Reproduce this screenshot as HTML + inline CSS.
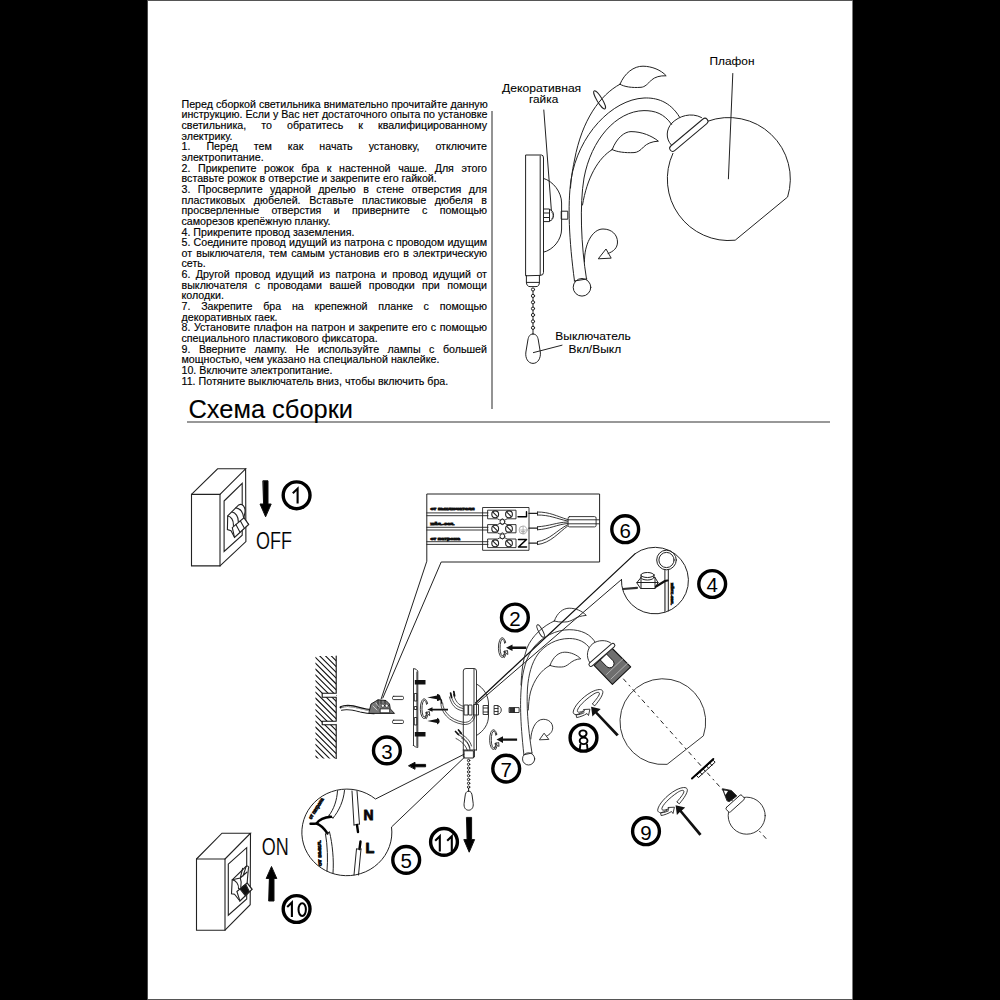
<!DOCTYPE html>
<html><head><meta charset="utf-8">
<style>
html,body{margin:0;padding:0;background:#000;}
body{width:1000px;height:1000px;position:relative;overflow:hidden;font-family:"Liberation Sans",sans-serif;}
#page{position:absolute;left:147.5px;top:1px;width:705px;height:998px;background:#fff;}
#topline{position:absolute;left:147.5px;top:0;width:705px;height:1px;background:#555;}
#botline{position:absolute;left:147.5px;top:999px;width:705px;height:1px;background:#555;}
#txt{position:absolute;left:181.5px;top:98.65px;width:305.5px;font-size:10.68px;line-height:10.65px;color:#000;-webkit-text-stroke:0.15px #000;}
#txt div{white-space:nowrap;}
#txt div.j{text-align:justify;text-align-last:justify;white-space:nowrap;}
#hline{position:absolute;left:187px;top:421px;width:643px;height:2px;background:#989898;}
#vline{position:absolute;left:491px;top:111px;width:2px;height:298px;background:#939393;}
svg{position:absolute;left:0;top:0;}
</style></head><body>
<div id="page"></div><div style="position:absolute;left:147px;top:0;width:1px;height:1000px;background:#4a4a4a"></div><div style="position:absolute;left:852px;top:0;width:1px;height:1000px;background:#7a7a7a"></div><div id="topline"></div><div id="botline"></div>
<div id="txt">
<div class="j">Перед сборкой светильника внимательно прочитайте данную</div>
<div class="j">инструкцию. Если у Вас нет достаточного опыта по установке</div>
<div class="j">светильника, то обратитесь к квалифицированному</div>
<div>электрику.</div>
<div class="j">1. Перед тем как начать установку, отключите</div>
<div>электропитание.</div>
<div class="j">2. Прикрепите рожок бра к настенной чаше. Для этого</div>
<div>вставьте рожок в отверстие и закрепите его гайкой.</div>
<div class="j">3. Просверлите ударной дрелью в стене отверстия для</div>
<div class="j">пластиковых дюбелей. Вставьте пластиковые дюбеля в</div>
<div class="j">просверленные отверстия и приверните с помощью</div>
<div>саморезов крепёжную планку.</div>
<div>4. Прикрепите провод заземления.</div>
<div class="j">5. Соедините провод идущий из патрона с проводом идущим</div>
<div class="j">от выключателя, тем самым установив его в электрическую</div>
<div>сеть.</div>
<div class="j">6. Другой провод идущий из патрона и провод идущий от</div>
<div class="j">выключателя с проводами вашей проводки при помощи</div>
<div>колодки.</div>
<div class="j">7. Закрепите бра на крепежной планке с помощью</div>
<div>декоративных гаек.</div>
<div class="j">8. Установите плафон на патрон и закрепите его с помощью</div>
<div>специального пластикового фиксатора.</div>
<div class="j">9. Вверните лампу. Не используйте лампы с большей</div>
<div>мощностью, чем указано на специальной наклейке.</div>
<div>10. Включите электропитание.</div>
<div>11. Потяните выключатель вниз, чтобы включить бра.</div>
</div>
<div id="hline"></div>
<div id="vline"></div>
<svg width="1000" height="1000" viewBox="0 0 1000 1000" fill="none" stroke="#111" stroke-width="1" stroke-linecap="round" stroke-linejoin="round">
<!-- TOP LAMP -->
<g id="toplamp" stroke="#222" stroke-width="1">
<!-- labels -->
<g fill="#000" stroke="#000" stroke-width="0.08" font-family="Liberation Sans" font-size="10.8">
<text x="709.5" y="65" textLength="45" lengthAdjust="spacingAndGlyphs">Плафон</text>
<text x="502" y="91.5" textLength="79.2" lengthAdjust="spacingAndGlyphs">Декоративная</text>
<text x="529" y="103" textLength="29.2" lengthAdjust="spacingAndGlyphs">гайка</text>
<text x="555.3" y="340" textLength="75.4" lengthAdjust="spacingAndGlyphs">Выключатель</text>
<text x="568.5" y="352.6" textLength="52.7" lengthAdjust="spacingAndGlyphs">Вкл/Выкл</text>
</g>
<path d="M732.8,73.5 L728.4,178.8"/>
<path d="M543.8,110 L551.4,210.8"/>
<!-- wall plate -->
<path d="M525.6,275.4 L525.6,155 L541.5,155 Q543.5,155 543.5,158 L543.5,272.5 Q543.5,275.4 540.5,275.4 Z"/>
<path d="M540.2,156 L540.2,275"/>
<!-- switch housing -->
<path d="M526.4,275.4 L526.4,282.4 L539.4,282.4 L539.4,275.4"/>
<path d="M526.4,282.4 Q526.6,286.6 530,286.6 L536,286.6 Q539.4,286.6 539.4,282.4"/>
<!-- bowl -->
<path d="M543.5,178.4 C553,181 561.6,192 561.6,203 L561.6,229 C561.6,240 553,250 543.5,252.2"/>
<!-- nut -->
<path d="M544.2,209 L549.5,209 L549.5,221.6 L544.2,221.6 M544.2,213 L549.5,213 M544.2,217.5 L549.5,217.5 M549.5,209.5 C555,209.5 555,221 549.5,221"/>
<path d="M551.5,212 C553.5,213.5 553.5,217.5 551.5,219" stroke-width="0.6"/>
<!-- connector -->
<rect x="561.6" y="211.2" width="6.2" height="8"/>
<!-- arm -->
<path d="M679.6,117.2 C670,101 656,97.5 644,98 C612,99.5 578,135 571,180 C567.5,205 569,240 574.5,281"/>
<path d="M671.6,124.4 C664,113.5 655,110.6 644,110.6 C616,111 591,140 584,178 C579.5,205 581,245 586.5,279"/>
<!-- top leaf stem + leaf -->
<path d="M620,84.2 C600,95 582,120 574.5,160 C572,172 571,180 570.5,188"/>
<path d="M620,84.2 C624.5,73 634,66 643,66.2 C652,66.3 661,70 666.2,75.8 C660,75.5 655,77 651.5,80 C647.5,84 645,87 641,87.3 C632,88 624,86.8 620,84.2 Z"/>
<ellipse cx="599.6" cy="99.8" rx="10.5" ry="2.6" transform="rotate(58.6 599.6 99.8)"/>
<!-- leaf 2 -->
<path d="M612.2,149.6 C598,158 587,178 582.5,205"/>
<path d="M612.2,149.6 C616.5,138 624.5,131.6 631,131.6 C642,131.6 652,136 658.4,141.2 C652,141.4 647,143.5 643.5,147 C640.5,150.5 637,152.6 634,152.6 C625,153 617,152 612.2,149.6 Z"/>
<!-- curl -->
<path d="M584.5,262 C584,245 592,229 603,229 C612,229 617.5,235 617.5,242 C617.5,248 613.5,251.5 608,253.5"/>
<path d="M598.5,258.5 L606,249 L611,257.8 Z"/>
<!-- ball -->
<circle cx="582" cy="287.3" r="8.8"/>
<path d="M574.3,281 L586.8,279"/>
<!-- globe -->
<path d="M707.8,121.2 A61.5,61.5 0 0 1 787.6,197 L735.2,240.2 A61.5,61.5 0 0 1 672.9,153.4"/>
<!-- collar -->
<rect x="664.8" y="131.8" width="48" height="6" rx="3" transform="rotate(-40 688.8 134.8)" fill="#fff"/>
<!-- dome -->
<path d="M671.2,144.8 C665.5,139 666,129 672,123 C679,116 691,112 701.5,117.5"/>
<!-- chain -->
<g>
<circle cx="533" cy="289.5" r="1.6"/><circle cx="533" cy="295.9" r="1.6"/><circle cx="533" cy="302.3" r="1.6"/>
<circle cx="533" cy="308.6" r="1.6"/><circle cx="533" cy="315" r="1.6"/><circle cx="533" cy="321.4" r="1.6"/>
<circle cx="533" cy="327.8" r="1.6"/>
<path d="M533,291.1 L533,294.3 M533,297.5 L533,300.7 M533,303.9 L533,307 M533,310.2 L533,313.4 M533,316.6 L533,319.8 M533,323 L533,326.2 M533,329.4 L533,334"/>
</g>
<path d="M533,334 C530,334 528.6,336 527.9,340 L525.9,352 C525,358 528,363.4 533,363.4 C538,363.4 541,358 540.3,352 L538.3,340 C537.6,336 536,334 533,334 Z" fill="#fff"/>
<path d="M533.4,352.6 L562,345.2"/>
</g>
<text x="188.5" y="417.7" font-family="Liberation Sans" font-size="26" fill="#000" stroke="#000" stroke-width="0.12" textLength="164.5" lengthAdjust="spacingAndGlyphs">Схема сборки</text>
<!-- circled numbers -->
<g id="nums" stroke="#000" stroke-width="3.4" fill="none">
<circle cx="296.6" cy="495.3" r="13.4"/>
<circle cx="514.9" cy="617.5" r="13.4"/>
<circle cx="386.9" cy="750.4" r="13.4"/>
<circle cx="712.2" cy="584" r="13.4"/>
<circle cx="406.2" cy="859.9" r="13.4"/>
<circle cx="625.2" cy="529.2" r="13.4"/>
<circle cx="506.2" cy="768.6" r="13.4"/>
<circle cx="583.5" cy="737.75" r="13.4"/>
<circle cx="646" cy="831.2" r="13.4"/>
<circle cx="296.6" cy="909" r="13.4"/>
<circle cx="444" cy="841.9" r="13.4"/>
</g>
<g fill="#000" stroke="none" font-family="Liberation Sans" font-size="20.5" text-anchor="middle">
<text x="514.9" y="625.8">2</text>
<text x="386.9" y="758.7">3</text>
<text x="712.2" y="592.3">4</text>
<text x="406.2" y="868.2">5</text>
<text x="625.2" y="537.5">6</text>
<text x="506.2" y="776.9">7</text>
<text x="646" y="839.5">9</text>
</g>
<!-- weird 8 -->
<g stroke="#000" stroke-width="1.9" fill="none">
<ellipse cx="583" cy="733.5" rx="3.6" ry="3.1"/>
<ellipse cx="583.6" cy="740.8" rx="3.9" ry="3.3"/>
<path d="M579.8,749 L580.4,744.6 M587.5,749 L587,744.6"/>
</g>
<g stroke="#000" stroke-width="2.1" fill="none" stroke-linecap="butt" stroke-linejoin="miter">
<path d="M292.8,493.2 L297.6,488.6 L297.6,503.6"/>
<path d="M287.2,906.9 L291.9,902.4 L291.9,917"/>
<ellipse cx="302.2" cy="909.6" rx="3.7" ry="6.4" stroke-width="2"/>
<path d="M435.2,840.8 L439.8,836.3 L439.8,851.4"/>
<path d="M447.2,840.8 L451.8,836.3 L451.8,851.4"/>
</g>
<!-- breaker box 1 (OFF) -->
<g stroke="#222" stroke-width="1.1" fill="none" stroke-linejoin="miter">
<path d="M191.5,494.4 L220,494.4 L220,565.9 L191.5,565.9 Z"/>
<path d="M191.5,494.4 L217.6,468.8 L245.6,468.8 L220,494.4"/>
<path d="M245.6,468.8 L245.9,541.6 L220,565.9"/>
<path d="M224.1,501 L242.2,483.4 L242.2,535.2 L224.1,551.5 Z"/>
<!-- toggles -->
<path fill="#fff" d="M227.7,515.9 L238.7,504.9 C242.5,503 245.5,507 245,512 L243.9,517.8 L248.6,524.4 L234.5,537.3 L231,530.7 L227.4,529.6 Z"/>
<path d="M227.7,516 C231,516.5 233.7,520 233.4,525.5 M232,512 C235.5,512.5 238.5,516.5 238.3,522 M235.9,507.9 C240,508.5 243,512 243.6,517.5"/>
<path fill="#fff" d="M232.3,527.7 L243.9,517.8 L248.6,524.4 L234.5,537.3 Z"/>
<path d="M235.9,524.4 L239.6,531.4 M240.3,520.8 L244,527.6"/>
<!-- breaker box 10 (ON) -->
<path d="M196.5,859 L225,859 L225,930.2 L196.5,930.2 Z"/>
<path d="M196.5,859 L222,833.2 L250.5,833.2 L225,859"/>
<path d="M250.5,833.2 L250.2,904.7 L225,930.2"/>
<path d="M228.3,864.2 L246.7,847.7 L246.7,899 L228.3,915.2 Z"/>
<path fill="#fff" d="M232.2,879.8 L246.2,866.3 C247.5,865.5 249.5,866.5 248.4,868.5 L247.1,883 L252,889.3 L239.9,901 L234.5,894.2 L231.5,893.8 Z"/>
<path d="M232.2,879.8 C236,880.5 238.8,884 238.5,888.5 M240.3,878 C241.5,881 241.2,885 240.8,887 M242.6,868.3 L240.3,878 M246.2,866.3 L243,876 M232.2,879.8 L240.3,878 L247.1,872"/>
<path fill="#fff" d="M236.9,891.5 L247.1,883 L252,889.3 L239.9,901 Z"/>
<path fill="#111" d="M239.9,888.8 L245.7,884.3 L249.3,891.5 L245.3,895.6 Z"/>
</g>
<!-- arrows -->
<path d="M263.2,480.8 L268,480.8 L268,504 L271.2,504 L265.6,516.8 L260,504 L263.2,504 Z" fill="#000"/>
<path d="M269,901 L274,901 L274,878.5 L276.8,878.5 L271.5,866.5 L266.2,878.5 L269,878.5 Z" fill="#000"/>
<g fill="#000" stroke="#fff" stroke-width="0.15" font-family="Liberation Sans" font-size="24.5">
<text x="256" y="548.8" textLength="36" lengthAdjust="spacingAndGlyphs">OFF</text>
<text x="261.7" y="854.8" textLength="27" lengthAdjust="spacingAndGlyphs">ON</text>
</g>
<!-- callout box 6 -->
<g stroke="#222" stroke-width="1" fill="none">
<path d="M381.2,698.8 L426.8,561.2 L426.8,494 L599.6,494 L599.6,562 L441.2,562 L382.8,698"/>
</g>
<!-- wall hatch -->
<defs>
<clipPath id="wallclip"><path clip-rule="evenodd" d="M315.4,656 L336.2,656 L336.2,758.4 L315.4,758.4 Z M322.2,693.2 L337,693.2 L337,697.2 L322.2,697.2 Z M322.2,721.2 L337,721.2 L337,724.8 L322.2,724.8 Z"/></clipPath>
</defs>
<g stroke="#111" stroke-width="1.1" fill="none">
<path clip-path="url(#wallclip)" d="M315.4,605.2 L336.2,626.0 M315.4,611.0 L336.2,631.8 M315.4,616.8 L336.2,637.6 M315.4,622.6 L336.2,643.4 M315.4,628.4 L336.2,649.2 M315.4,634.2 L336.2,655.0 M315.4,640.0 L336.2,660.8 M315.4,645.8 L336.2,666.6 M315.4,651.6 L336.2,672.4 M315.4,657.4 L336.2,678.2 M315.4,663.2 L336.2,684.0 M315.4,669.0 L336.2,689.8 M315.4,674.8 L336.2,695.6 M315.4,680.6 L336.2,701.4 M315.4,686.4 L336.2,707.2 M315.4,692.2 L336.2,713.0 M315.4,698.0 L336.2,718.8 M315.4,703.8 L336.2,724.6 M315.4,709.6 L336.2,730.4 M315.4,715.4 L336.2,736.2 M315.4,721.2 L336.2,742.0 M315.4,727.0 L336.2,747.8 M315.4,732.8 L336.2,753.6 M315.4,738.6 L336.2,759.4 M315.4,744.4 L336.2,765.2 M315.4,750.2 L336.2,771.0 M315.4,756.0 L336.2,776.8"/>
<path d="M336.2,656 L336.2,693.2 L322.2,693.2 L322.2,697.2 L336.2,697.2 L336.2,721.2 L322.2,721.2 L322.2,724.8 L336.2,724.8 L336.2,758.4"/>
</g>
<!-- wall wire + terminal -->
<g stroke="#111" fill="none">
<path d="M340.6,707.3 C346,704.5 352,705.5 360,708 C365,709.5 369,710 373.5,710.3" stroke-width="2.2"/>
<path d="M341.8,707.2 C346.5,705.6 352,706.4 359.5,708.6 C364.5,710 369,710.5 373.5,710.7" stroke="#fff" stroke-width="0.7"/>
<path d="M341.6,710.3 C347,709 353,710 360,712 C365,713.3 369.5,713.8 374,713.8" stroke-width="1.1"/>
<path d="M342.5,711.2 C348,710.3 353.5,711 360,712.8" stroke="#fff" stroke-width="0.5"/>
<path d="M369.3,711 L371,704 L376,701 L378,699.8 L386,700.5 L389.5,704 L390.3,708.9 L394.5,713.4 L369.3,713.4 Z" fill="#777" stroke-width="0.9"/>
<rect x="380.5" y="708.9" width="9.1" height="3.8" fill="#fff" stroke="#111" stroke-width="0.7"/>
<circle cx="382.9" cy="705.7" r="1.6" fill="#fff" stroke="#111" stroke-width="0.6"/>
<circle cx="386.8" cy="705.7" r="1.6" fill="#fff" stroke="#111" stroke-width="0.6"/>
<path d="M378,700 L378,708 M381,700.5 L381,703.5 M385,700.5 L385,703.5" stroke="#111" stroke-width="0.8"/>
<path d="M373,706 L377,710 M376,703 L379,707" stroke="#fff" stroke-width="0.6"/>
</g>
<!-- dowels -->
<g stroke="#222" stroke-width="0.9" fill="#fff">
<rect x="392.5" y="696.3" width="11" height="3.3" rx="1.2"/>
<rect x="392.5" y="720.2" width="11" height="3.3" rx="1.2"/>
</g>
<!-- mounting plate -->
<g stroke="#222" stroke-width="0.9" fill="none">
<path d="M413.5,745.5 L413.5,668.5 Q416.5,668.8 417.8,671 L417.8,747.5 Q415.5,747.3 413.5,745.5 Z"/>
<path d="M416.9,672 L416.9,746"/>
<rect x="414.7" y="693.5" width="2.2" height="7.5"/>
<rect x="414.7" y="706.5" width="2.2" height="3"/>
<rect x="414.7" y="717.5" width="2.2" height="7.5"/>
</g>
<g fill="#111" stroke="none">
<rect x="414.8" y="680" width="10.7" height="4.5"/>
<rect x="414.8" y="732" width="10.7" height="4.5"/>
<!-- screws pointing left -->
<path d="M427.3,697.5 L437,695.6 L437,694 A3.5,3.5 0 0 1 437,701 L437,699.3 Z"/>
<path d="M427.3,721 L437,719.1 L437,717.8 A3.5,3.5 0 0 1 437,724.6 L437,722.9 Z"/>
<path d="M427.3,709.5 L432.5,707.2 L432.5,708.7 L448,708.7 L448,710.5 L432.5,710.5 L432.5,711.7 Z"/>
</g>
<!-- ring near plate -->
<g stroke="#222" stroke-width="0.9" fill="none">
<g transform="translate(-78.1,61.1)" stroke="#222" stroke-width="0.9" fill="none">
<path d="M505.6,642.2 A3.9,9.9 0 1 0 505.9,651.5 M504.7,643 A2.5,8.5 0 1 0 504.9,650.7 M505.6,642.2 L504.7,643"/>
<path d="M503.5,656.5 L505.5,652.2 L503.5,651.8 L507.5,650.5 L507.8,654.5 L506.3,653.2 L504.6,657.2 Z" fill="#fff"/>
</g>
</g>
<!-- arrow under 3 -->
<path d="M408.8,765.6 L415,762.3 L415,764.4 L425.6,764.4 L425.6,766.8 L415,766.8 L415,768.9 Z" fill="#000"/>
<!-- terminal block in callout 6 -->
<g stroke="#222" stroke-width="0.9" fill="none">
<!-- left wires (pairs) -->
<path d="M426.8,512.9 L488,512.9 M426.8,515.7 L488,515.7 M426.8,527.3 L488,527.3 M426.8,530 L488,530 M426.8,541.7 L488,541.7 M426.8,544.4 L488,544.4"/>
<rect x="483" y="507.5" width="46" height="42.8" fill="#fff"/>
<path d="M488,510.2 L516,510.2 L516,518.8 L507,518.8 Q505,521.5 502.4,518.8 Q500,521.5 497.5,518.8 L488,518.8 Z"/>
<path d="M488,524.6 L497.5,524.6 Q500,522 502.4,524.6 Q505,522 507,524.6 L516,524.6 L516,532.8 L507,532.8 Q505,535.5 502.4,532.8 Q500,535.5 497.5,532.8 L488,532.8 Z"/>
<path d="M488,539 L497.5,539 Q500,536.5 502.4,539 Q505,536.5 507,539 L516,539 L516,547.6 L488,547.6 Z"/>
<path d="M483,512.9 L488,512.9 M483,515.7 L488,515.7 M483,527.3 L488,527.3 M483,530 L488,530 M483,541.7 L488,541.7 M483,544.4 L488,544.4"/>
<circle cx="502.4" cy="521.8" r="2.4"/>
<circle cx="502.4" cy="536.3" r="2.4"/>
<g stroke-width="1.1">
<circle cx="495.2" cy="514.3" r="3.4"/><circle cx="509" cy="514.3" r="3.4"/>
<circle cx="495.2" cy="528.7" r="3.4"/><circle cx="509" cy="528.7" r="3.4"/>
<circle cx="495.2" cy="543.3" r="3.4"/><circle cx="509" cy="543.3" r="3.4"/>
<path d="M493.2,512.3 L497.2,516.3 M507,512.3 L511,516.3 M493.2,526.7 L497.2,530.7 M507,526.7 L511,530.7 M493.2,541.3 L497.2,545.3 M507,541.3 L511,545.3"/>
</g>
<!-- L and N labels (rotated) -->
<path d="M518,516.8 L526.5,516.8 L526.5,511.8" stroke-width="1.4" stroke="#000"/>
<path d="M518.5,539.5 L526.5,539.5 L518.5,547 L526.5,547" stroke-width="1.6" stroke="#000"/>
<circle cx="523.1" cy="530" r="4" stroke="#999" stroke-width="0.8"/>
<path d="M523.1,526.5 L523.1,533.5 M520.5,530 L525.7,530 M521.3,531.5 L524.9,531.5 M522,533 L524.2,533" stroke="#999" stroke-width="0.7"/>
<!-- right wires -->
<path d="M529,513.4 L537.5,513.4 M529,528.2 L537.5,528.2 M529,543.1 L537.5,543.1" stroke-width="1.3"/>
<path d="M537.5,512 C550,512 556,516 567.5,519.5 M537.5,515 C550,515 556,518.5 567.5,521"/>
<path d="M537.5,526.8 C550,526 556,522.5 567.5,522 M537.5,529.8 C550,529 557,524.5 567.5,523.5"/>
<path d="M537.5,541.6 C550,540 557,530 567.5,524.8 M537.5,544.6 C551,543 559,532 567.5,526.2"/>
<path d="M537.5,512 L537.5,515 M537.5,526.8 L537.5,529.8 M537.5,541.6 L537.5,544.6"/>
<rect x="568.1" y="516.6" width="28" height="10.3" rx="1.5" fill="#fff"/>
<path d="M568.1,519.8 L599.6,519.8 M568.1,523.8 L599.6,523.8"/>
</g>
<g fill="#777" font-family="Liberation Sans" font-size="4.3">
<text x="430.4" y="510.4" textLength="44" lengthAdjust="spacingAndGlyphs">от выключателя</text>
<text x="430.4" y="525.3" textLength="24.3" lengthAdjust="spacingAndGlyphs">жёл.-зел.</text>
<text x="430.4" y="539.7" textLength="29.6" lengthAdjust="spacingAndGlyphs">от патрона</text>
</g>
<!-- MIDDLE LAMP ASSEMBLY -->
<g stroke="#222" stroke-width="0.9" fill="none">
<!-- long callout lines from circle 4 to wall plate -->
<path d="M635.2,553.6 L475.5,703" stroke-width="1.3" stroke="#111"/>
<path d="M621.5,579.5 L476.5,704" stroke-width="1"/>
<!-- small wall plate -->
<path d="M463.3,750 L463.3,671 Q463.3,668.5 466,668.5 L474,668.5 Q476.5,668.5 476.5,671 L476.5,750"/>
<path d="M474,669 L474,750"/>
<path d="M463.3,750 L463.3,757 L474.5,757 L474.5,750 M463.3,750 L476.5,750"/>
<!-- bowl -->
<path d="M476.5,684 C484,688 488.5,696 488.5,704 L488.5,716 C488.5,724 484,731 476.5,735.5"/>
<!-- small parts along axis -->
<rect x="464.5" y="705" width="3.5" height="10"/>
<rect x="469" y="705" width="3" height="10"/>
<rect x="474" y="704.5" width="4.5" height="10.5"/>
<rect x="483.5" y="705.5" width="4.5" height="9"/>
<path d="M483.5,708 L488,708 M483.5,712 L488,712"/>
<path d="M494.5,705.5 L498,705.5 L498,714.5 L494.5,714.5 Z M494.5,708.5 L498,708.5 M494.5,711.5 L498,711.5 M498,705.8 C502.5,706.5 502.5,713.5 498,714.2"/>
<rect x="509.5" y="707.6" width="4.9" height="4.9" fill="#333"/>
<rect x="514.4" y="707.6" width="4.7" height="4.9"/>
<!-- wires at plate -->
<path d="M451,695.5 C453,703 456,707 463,708.5 M453.5,694.5 C455.5,701.5 458.5,705 463,706.2 M449.5,697 C451.5,705 455,709.5 463,711" stroke-width="0.8"/>
<path d="M440.8,703 C441,712 448,722 463.5,724.5 C470,725 474,721 475,716 M442.6,703 C443,711 450,720 463.5,722.3 C469,722.8 472.5,719.5 473.5,715" stroke-width="0.8"/>
<path d="M439.5,697.5 C441,699 441.6,701 441.6,703" stroke-width="1.6" stroke="#111"/>
<path d="M450.6,693 L451.6,697.5 M453.8,691.5 L454.6,696" stroke="#111" stroke-width="1.7"/>
<path d="M455.5,731.5 L458.5,734.5 M458.5,730 L461.2,733.3" stroke="#111" stroke-width="1.7"/>
<path d="M457,734 C463,737 468,741 470,748 M459.5,733 C465,736 470,740 471.5,746 M461.5,738 C466,740.5 469,744 470,750 M456,738.5 C461,741 466,745 467.5,751" stroke-width="0.8"/>
<!-- pull chain small (moved) -->
<!-- arm -->
<path d="M595.9,643.5 C591,634 581,629.7 569.2,629.7 C556,629.7 542,637 534,647 C526,657 522.5,672 521.5,685 C520,700 520,720 523.9,754.8"/>
<path d="M589.9,648.6 C586,642 578,638.5 569.2,638.5 C556,638.5 545,645 538,654 C531.5,663 528.5,675 527.5,688 C526.5,705 527.5,725 532,753"/>
<!-- top leaf stem -->
<path d="M554.4,620.9 C543,626 532,636 527,648 C523,659 521.5,672 521,685"/>
<path d="M554.4,620.9 C557,613 563,608.2 569.2,608.2 C576,608.2 582,611 586.3,615.4 C581,615.8 577.5,617 574.7,618.7 C571,621 568,622 564.8,622 C560,622.2 556.5,621.8 554.4,620.9 Z"/>
<ellipse cx="540.6" cy="631" rx="7" ry="2" transform="rotate(62 540.6 631)"/>
<!-- leaf 2 -->
<path d="M550,665.4 C541,670 534,680 530.5,692 C529,698 528.5,705 528.3,710"/>
<path d="M550,665.4 C553,657 558.5,652.2 564.8,652.2 C571,652.2 577,655 580.8,658.8 C576,659 572.5,661 569.5,663.5 C566.5,666 564,667 561.5,667 C557,667.2 553,666.6 550,665.4 Z"/>
<!-- curl -->
<path d="M530.8,739 C531,731 535,719.3 543.2,719.3 C549,719.3 552.7,723 552.7,727.8 C552.7,731.5 550,734.5 546.8,735.9"/>
<path d="M539.6,739.5 L544.1,733.2 L548.6,739.1 Z"/>
<!-- ball -->
<circle cx="528.6" cy="758.9" r="6.1" fill="#fff"/>
<path d="M523.9,754.8 L532,753"/>
<!-- socket -->
<path d="M594.1,665.4 L611.8,648 L630.7,666.9 L612.4,684.3 Z" fill="#6e6e6e" stroke="#111" stroke-width="1.1"/>
<path d="M606.5,674.5 L623.5,658.3 M611,679 L628,662.8" stroke="#ccc" stroke-width="0.7"/>
<path transform="translate(603.6,657.2) rotate(45.8)" d="M0,-4.3 L8.8,-4.3 A4.3,4.3 0 0 1 8.8,4.3 L0,4.3 Z" fill="#fff" stroke="#111" stroke-width="0.9"/>
<path d="M589.9,662.7 C585.5,657 587,648 593,643.5 C598,640 606,639.5 610.6,642.9" fill="#fff"/>
<rect x="585.4" y="652.9" width="33" height="4" rx="2" transform="rotate(-41 601.9 654.9)" fill="#fff" stroke-width="1"/>
</g>
<!-- rings 2 and 7 (small, upright) -->
<g stroke="#222" stroke-width="0.9" fill="none">
<g>
<path d="M505.6,642.2 A3.9,9.9 0 1 0 505.9,651.5 M504.7,643 A2.5,8.5 0 1 0 504.9,650.7 M505.6,642.2 L504.7,643"/>
<path d="M503.5,656.5 L505.5,652.2 L503.5,651.8 L507.5,650.5 L507.8,654.5 L506.3,653.2 L504.6,657.2 Z" fill="#fff"/>
</g>
<g transform="translate(-8.8,92)">
<path d="M505.6,642.2 A3.9,9.9 0 1 0 505.9,651.5 M504.7,643 A2.5,8.5 0 1 0 504.9,650.7 M505.6,642.2 L504.7,643"/>
<path d="M503.5,656.5 L505.5,652.2 L503.5,651.8 L507.5,650.5 L507.8,654.5 L506.3,653.2 L504.6,657.2 Z" fill="#fff"/>
</g>
</g>
<g fill="#111" stroke="none">
<path d="M506,647.8 L512.5,644.5 L512.5,646.6 L526.3,646.6 L526.3,649 L512.5,649 L512.5,651.1 Z"/>
<path d="M496.5,739.6 L503,736.3 L503,738.4 L517.1,738.4 L517.1,740.8 L503,740.8 L503,742.9 Z"/>
</g>
<!-- callout circle 4 -->
<g stroke="#222" stroke-width="1" fill="none">
<path d="M635.2,553.6 A33.5,33.3 0 1 1 621.8,585.5 L621.5,579.5"/>
<!-- eyelet -->
<circle cx="666.5" cy="560" r="9.8"/>
<circle cx="666.5" cy="560" r="7.6"/>
<path d="M664.9,569.6 L664.9,611.5 M668.3,569.6 L668.3,611"/>
<path d="M665.6,580 L665.6,611" stroke="#888" stroke-width="1"/>
<!-- nut -->
<g transform="translate(0,2.5)">
<path d="M637,580 L641,575 L655,575 L658,580 L655,586 L641,586 Z" fill="#fff"/>
<path d="M637,580 L658,580 M641,575 L641,586 M655,575 L655,586"/>
<ellipse cx="647.5" cy="575" rx="6.5" ry="2.5" fill="#fff"/>
<path d="M641,575 L641,572.5 M654,575 L654,572.5"/>
<ellipse cx="647.5" cy="572.5" rx="6.5" ry="2.5" fill="#fff"/>
<path d="M623,586.5 L637,585.3" stroke-width="2.2" stroke="#333"/>
<path d="M656,584 L665,578.5 L667.5,578" stroke="#111" stroke-width="2.2"/>
</g>
</g>
<g fill="#666" font-family="Liberation Sans" font-size="4.2">
<text transform="translate(670.5,583) rotate(90)" textLength="22" lengthAdjust="spacingAndGlyphs">жёлт.-зел.</text>
</g>
<!-- dash-dot axis -->
<path d="M623.5,679 L766,838.5" stroke="#222" stroke-width="1" fill="none" stroke-dasharray="3.8 4.5 1.2 4.5"/>
<!-- globe bottom -->
<g stroke="#222" stroke-width="0.9" fill="none">
<path d="M666.7,764.4 A42.9,42.9 0 1 1 703.5,735.5 Z"/>
<!-- flat fixing ring -->
<polygon points="696.8,775.2 713.2,760.2 715.1,762.2 698.7,777.3" fill="#fff" stroke="#111" stroke-width="1"/>
<path d="M700.1,772.2 L702.0,774.3 M703.4,769.2 L705.3,771.2 M706.6,766.2 L708.5,768.2 M709.9,763.2 L711.8,765.2" stroke="#111" stroke-width="1"/>
<path d="M692,778.5 L713.3,759" stroke="#000" stroke-width="1.9"/>
<!-- bulb -->
<circle cx="746.7" cy="815.7" r="18.5" fill="#fff"/>
<rect x="724.6" y="800.6" width="21" height="6" rx="1.5" transform="rotate(-42 735.1 803.5)" fill="#fff"/>
<path d="M726.9,800.5 L722.4,788.7 L731.4,790.5 L736.8,795.9 Q733,799 729.5,801.5 Z" fill="#111"/>
<path d="M723.8,790.5 L725.5,795 L728,791 Z" fill="#fff" stroke="none"/>
</g>
<!-- ring 8 and 9 -->
<g stroke="#222" stroke-width="0.9" fill="none">
<path d="M584,712.8 C578,715.8 573,715.2 573.2,712 C573.6,707 581.5,697.5 591.5,692 C597.5,689 602.2,688.6 602.8,691.5 C603.4,694.5 599.3,700.5 594.8,705.8 L592.3,704 C596.3,699.3 599.8,695 599.4,693.2 C599,691.6 596,692.4 592.8,694.6 C584.5,700.3 578,707 577.4,710.5 C577,712.6 579.5,712.8 583.2,711"/>
<path d="M576.5,714.8 C580,713.5 583,712 584.5,711 L583.5,709.5 L589.9,709.2 L588.5,715.5 L587,713.5 C584,715.5 580,717 577,717.5 Z"/>
</g>
<g transform="translate(84.5,98)"><g stroke="#222" stroke-width="0.9" fill="none">
<path d="M584,712.8 C578,715.8 573,715.2 573.2,712 C573.6,707 581.5,697.5 591.5,692 C597.5,689 602.2,688.6 602.8,691.5 C603.4,694.5 599.3,700.5 594.8,705.8 L592.3,704 C596.3,699.3 599.8,695 599.4,693.2 C599,691.6 596,692.4 592.8,694.6 C584.5,700.3 578,707 577.4,710.5 C577,712.6 579.5,712.8 583.2,711"/>
<path d="M576.5,714.8 C580,713.5 583,712 584.5,711 L583.5,709.5 L589.9,709.2 L588.5,715.5 L587,713.5 C584,715.5 580,717 577,717.5 Z"/>
</g></g>
<g fill="#111" stroke="none">
<path d="M591.1,706.7 L600.7,709 L597.3,711.9 L618.8,734.5 L616.6,736.2 L595.3,713.6 L592.4,716.6 Z"/>
<path d="M675.6,805.2 L685.2,807.5 L681.8,810.4 L701.6,834 L699.4,835.7 L679.8,812.1 L676.9,815.1 Z"/>
</g>
<!-- callout circle 5 -->
<g stroke="#222" stroke-width="1" fill="none">
<path d="M466.2,753.2 L375.5,799 A45,43.3 0 1 0 391.5,827 L465,756.8"/>
<!-- wires -->
<path d="M337.5,790.8 C337,800 334,809 329,815.5 M344.5,790.5 C343.5,801 339,811 333,818 M329,815.5 L333,818"/>
<path d="M331,816.8 C324,817.5 319,820 316.5,823.5 C314.5,823.8 312.5,823.8 310.5,823.8" stroke="#000" stroke-width="2.4"/>
<path d="M316.5,823.5 C321,825 324.5,829 327.5,833.5" stroke="#000" stroke-width="2.4"/>
<path d="M325.5,834 C327.5,845 328,860 327,871 M329.5,832 C332.5,844 334,860 333,873 M325.5,834 L329.5,832"/>
<path d="M352,791 L354,825 M357,791 L359.5,824 M354,825 L359.5,824"/>
<path d="M357,825 L358,832" stroke="#000" stroke-width="2.4"/>
<path d="M360.5,841.5 L359.5,849" stroke="#000" stroke-width="2.4"/>
<path d="M356.5,849 L354,875 M361,849 L358.5,875 M356.5,849 L361,849"/>
</g>
<g fill="#000" font-family="Liberation Sans" font-weight="bold">
<text x="363.6" y="819.5" font-size="15" textLength="10" lengthAdjust="spacingAndGlyphs">N</text>
<text x="365.6" y="852.5" font-size="15" textLength="8.8" lengthAdjust="spacingAndGlyphs">L</text>
</g>
<g fill="#777" font-family="Liberation Sans" font-size="5">
<text transform="translate(311.2,819.5) rotate(-58)" textLength="24" lengthAdjust="spacingAndGlyphs">от патрона</text>
<text transform="translate(321.5,866) rotate(-92)" textLength="26" lengthAdjust="spacingAndGlyphs">от выкл.</text>
</g>
<!-- chain and knob below small plate -->
<g stroke="#111" stroke-width="0.9" fill="#fff">
<rect x="464.4" y="750.8" width="9" height="7.2"/>
<circle cx="468.6" cy="760.5" r="1.2"/><circle cx="468.6" cy="764.3" r="1.2"/><circle cx="468.6" cy="768.1" r="1.2"/>
<circle cx="468.6" cy="771.9" r="1.2"/><circle cx="468.6" cy="775.7" r="1.2"/><circle cx="468.6" cy="779.5" r="1.2"/>
<circle cx="468.6" cy="783.3" r="1.2"/><circle cx="468.6" cy="787.1" r="1.2"/>
<path d="M468.6,788.3 L468.6,791"/>
<path d="M468.6,791 C466.2,791 465.4,793.5 465.1,796 L464.1,803.5 C463.7,807.5 465.5,810.2 468.6,810.2 C471.7,810.2 473.6,807.5 473.2,803.5 L472.2,796 C471.9,793.5 471.1,791 468.6,791 Z"/>
</g>
<!-- arrow 11 -->
<path d="M466.8,817.4 L471.6,817.4 L471.6,839.6 L474.6,839.6 L469.2,852.2 L463.8,839.6 L466.8,839.6 Z" fill="#000"/>
</svg>
</body></html>
